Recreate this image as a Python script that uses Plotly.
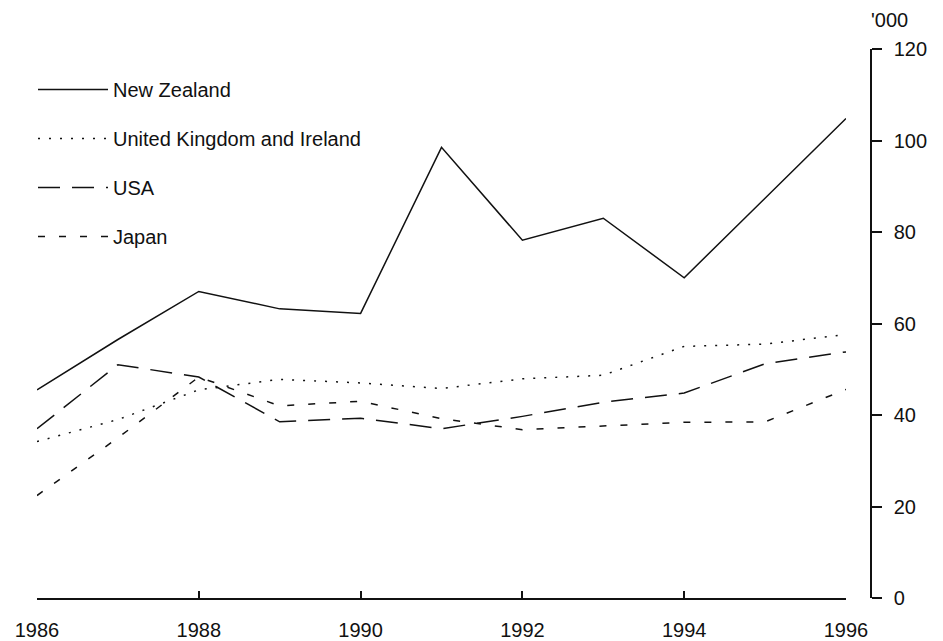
import plotly.graph_objects as go

years = [1986, 1987, 1988, 1989, 1990, 1991, 1992, 1993, 1994, 1995, 1996]
new_zealand = [45.5, 56.5, 67.0, 63.2, 62.2, 98.5, 78.2, 83.0, 70.0, 87.5, 104.8]
uk_ireland = [34.2, 39.0, 45.5, 47.8, 47.0, 45.8, 47.9, 48.7, 55.0, 55.5, 57.6]
usa = [37.0, 51.0, 48.3, 38.5, 39.3, 37.0, 39.7, 42.8, 44.8, 51.2, 53.8]
japan = [22.4, 35.0, 48.3, 42.0, 43.0, 39.2, 36.8, 37.6, 38.4, 38.5, 45.6]

series = [
    ("New Zealand", new_zealand, "solid"),
    ("United Kingdom and Ireland", uk_ireland, "2px,9px"),
    ("USA", usa, "22px,12px"),
    ("Japan", japan, "7px,14px"),
]

FONT = "Liberation Sans, Arial, Helvetica, sans-serif"
W, H = 935, 633

fig = go.Figure()
for i, (name, vals, dash) in enumerate(series):
    fig.add_trace(go.Scatter(
        x=years, y=vals, name=name, mode="lines",
        line=dict(color="#111111", width=1.5, dash=dash),
        legendgroup=f"g{i}",
    ))

fig.update_layout(
    width=W, height=H,
    margin=dict(l=29, r=72, t=41, b=43, autoexpand=False),
    paper_bgcolor="white", plot_bgcolor="white",
    font=dict(family=FONT, size=20, color="#111111"),
    showlegend=True,
    legend=dict(
        xref="container", yref="container",
        x=25 / W, y=1 - 62 / H, xanchor="left", yanchor="top",
        bgcolor="rgba(0,0,0,0)", borderwidth=0,
        font=dict(family=FONT, size=20, color="#111111"),
        traceorder="grouped", tracegroupgap=20,
        itemwidth=70,
    ),
    xaxis=dict(
        domain=[0, 809 / 834], range=[1986, 1996],
        tickvals=[1986, 1988, 1990, 1992, 1994, 1996],
        ticks="inside", ticklen=7, tickwidth=1.5, tickcolor="#111111",
        showline=True, linecolor="#111111", linewidth=1.5,
        showgrid=False, zeroline=False,
        ticklabelstandoff=13,
        tickfont=dict(family=FONT, size=20),
    ),
    yaxis=dict(
        side="right", anchor="free", position=1,
        range=[0, 120], dtick=20,
        ticks="outside", ticklen=10, tickwidth=1.5, tickcolor="#111111",
        showline=True, linecolor="#111111", linewidth=1.5,
        showgrid=False, zeroline=False,
        ticklabelstandoff=8,
        tickfont=dict(family=FONT, size=20),
    ),
    annotations=[dict(
        text="'000", xref="paper", yref="paper", x=1, y=1,
        xanchor="left", yanchor="middle", xshift=-2, yshift=29,
        showarrow=False, font=dict(family=FONT, size=20, color="#111111"),
    )],
)

fig.write_html("out.html")
